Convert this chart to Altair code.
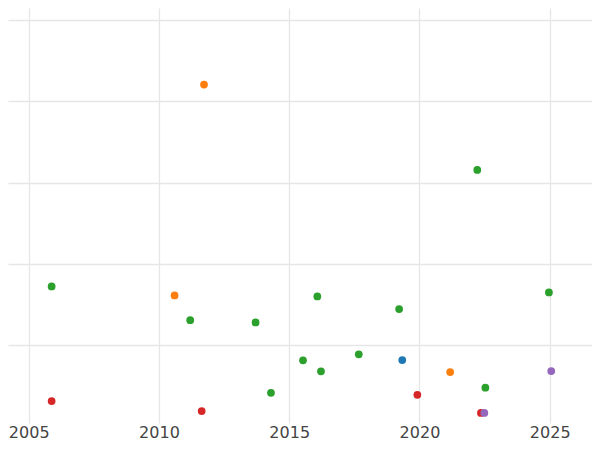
import altair as alt
import pandas as pd

# Data
series = ["C", "C", "C", "C", "C", "C", "C", "C", "C", "C", "C", "C",
          "B", "B", "B",
          "A",
          "D", "D", "D", "D",
          "E", "E"]
years = [2022.22, 2005.88, 2016.08, 2024.97, 2019.22, 2011.20, 2013.71, 2017.67,
         2015.53, 2016.22, 2022.53, 2014.30,
         2011.73, 2010.60, 2021.18,
         2019.34,
         2019.92, 2005.88, 2011.64, 2022.36,
         2025.06, 2022.49]
values = [3.156, 1.722, 1.599, 1.648, 1.443, 1.307, 1.279, 0.886,
          0.812, 0.677, 0.475, 0.413,
          4.207, 1.611, 0.668,
          0.815,
          0.387, 0.311, 0.188, 0.164,
          0.680, 0.164]

categories = ["A", "B", "C", "D", "E"]
palette = ["#1f77b4", "#ff7f0e", "#2ca02c", "#d62728", "#9467bd"]
x_ticks = [2005, 2010, 2015, 2020, 2025]
y_grid = [1, 2, 3, 4, 5]

df = pd.DataFrame({"series": series, "year": years, "value": values})

chart = alt.Chart(df).mark_circle(size=60, opacity=1).encode(
    x=alt.X("year:Q",
            scale=alt.Scale(domain=[2004.205, 2026.624], nice=False, zero=False),
            axis=alt.Axis(values=x_ticks, format="d", title=None, ticks=False,
                          domain=False, labelFontSize=16, labelColor="#444444",
                          labelFont="DejaVu Sans", labelBaseline="alphabetic",
                          labelPadding=14,
                          gridColor="#e6e6e6", gridWidth=1.3)),
    y=alt.Y("value:Q",
            scale=alt.Scale(domain=[0.0406, 5.15], nice=False, zero=False),
            axis=alt.Axis(values=y_grid, labels=False, ticks=False, domain=False,
                          title=None, gridColor="#e6e6e6", gridWidth=1.3)),
    color=alt.Color("series:N", scale=alt.Scale(domain=categories, range=palette),
                    legend=None),
).properties(
    width=584, height=415,
    autosize=alt.AutoSizeParams(type="none"),
    padding={"left": 0, "top": 0, "right": 0, "bottom": 19},
).configure_view(stroke=None)

chart.save("out.html", embed_options={"renderer": "svg", "actions": False})
